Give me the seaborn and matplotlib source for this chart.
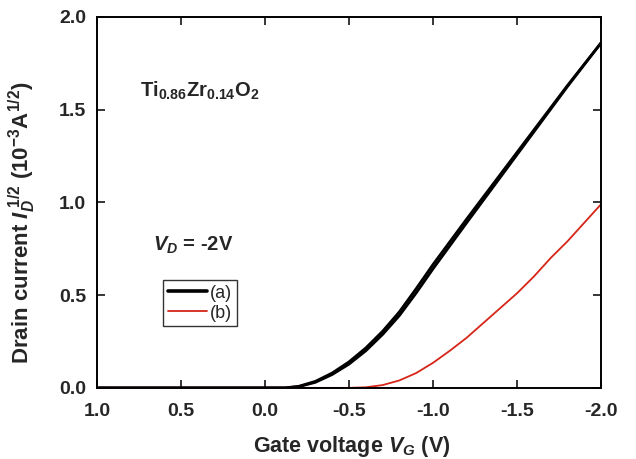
import numpy as np
import pandas as pd
import matplotlib
matplotlib.use("Agg")
import matplotlib.pyplot as plt
import seaborn as sns

# --------------------------------------------
# Data (sqrt drain current vs gate voltage)
# --------------------------------------------
vg_a = [1.0, 0.5, 0.0, -0.12, -0.2, -0.3, -0.4, -0.5, -0.6, -0.7, -0.8,
        -0.9, -1.0, -1.2, -1.4, -1.6, -1.8, -2.0]
id_a_fwd = [0.0, 0.0, 0.0, 0.0, 0.008, 0.035, 0.08, 0.14, 0.215, 0.305,
            0.41, 0.535, 0.665, 0.91, 1.15, 1.39, 1.63, 1.86]
id_a_rev = [0.0, 0.0, 0.0, 0.0, 0.006, 0.03, 0.072, 0.128, 0.2, 0.288,
            0.39, 0.512, 0.642, 0.89, 1.135, 1.38, 1.625, 1.86]

vg_b = [1.0, 0.5, 0.0, -0.5, -0.6, -0.7, -0.8, -0.9, -1.0, -1.1, -1.2,
        -1.3, -1.4, -1.5, -1.6, -1.7, -1.8, -1.9, -2.0]
id_b = [0.0, 0.0, 0.0, 0.0, 0.003, 0.015, 0.04, 0.08, 0.135, 0.20, 0.27,
        0.35, 0.43, 0.51, 0.60, 0.70, 0.79, 0.89, 0.99]

x_ticks = [1.0, 0.5, 0.0, -0.5, -1.0, -1.5, -2.0]
y_ticks = [0.0, 0.5, 1.0, 1.5, 2.0]

# --------------------------------------------
# Style
# --------------------------------------------
sns.set_style("ticks")
plt.rcParams['font.family'] = ['Liberation Sans', 'DejaVu Sans']
plt.rcParams['mathtext.fontset'] = 'custom'
plt.rcParams['mathtext.rm'] = 'Liberation Sans'
plt.rcParams['mathtext.bf'] = 'Liberation Sans:bold'
plt.rcParams['mathtext.it'] = 'Liberation Sans:italic'
plt.rcParams['mathtext.bfit'] = 'Liberation Sans:bold:italic'

fig = plt.figure(figsize=(6.36, 4.59), dpi=100)
ax = fig.add_axes([0.1525, 0.155, 0.7925, 0.808])

# --------------------------------------------
# Curves
# --------------------------------------------
sns.lineplot(x=vg_a, y=id_a_fwd, ax=ax, color='black', lw=2.0,
             sort=False, label='(a)')
sns.lineplot(x=vg_a, y=id_a_rev, ax=ax, color='black', lw=2.0,
             sort=False, label='_nolegend_')
sns.lineplot(x=vg_b, y=id_b, ax=ax, color='#d62518', lw=1.3,
             sort=False, label='(b)')

ax.set_xlim(1.0, -2.0)
ax.set_ylim(0.0, 2.0)
ax.set_xticks(x_ticks)
ax.set_yticks(y_ticks)
ax.set_xticklabels([f"{t:.1f}" for t in x_ticks])
ax.set_yticklabels([f"{t:.1f}" for t in y_ticks])

ax.tick_params(direction='in', length=6, width=1.3, top=True, right=True,
               labelsize=14)
ax.tick_params(axis='x', pad=11)
ax.tick_params(axis='y', pad=8)
for lab in ax.get_xticklabels() + ax.get_yticklabels():
    lab.set_fontweight('bold')
for sp in ax.spines.values():
    sp.set_linewidth(1.4)
    sp.set_color('black')

ax.set_xlabel(r'Gate voltage $\mathbfit{V}_{\mathbfit{G}}$ (V)',
              fontsize=15.5, fontweight='bold')
ax.xaxis.set_label_coords(0.505, -0.124)
ax.xaxis.label.set_va('top')
ax.set_ylabel(r'Drain current $\mathbfit{I}_{\mathbfit{D}}^{\ \mathbf{1/2}}$ '
              r'(10$^{\mathbf{-3}}$A$^{\mathbf{1/2}}$)',
              fontsize=16, fontweight='bold')
ax.yaxis.set_label_coords(-0.118, 0.445)

ax.text(0.085, 0.80, r'$\mathbf{Ti_{0.86}Zr_{0.14}O_2}$', transform=ax.transAxes,
        fontsize=14.5, va='center', ha='left')
ax.text(0.111, 0.385, r'$\mathbfit{V}_{\mathbfit{D}}$ = -2V', transform=ax.transAxes,
        fontsize=14.5, fontweight='bold', va='center', ha='left')

leg = ax.legend(loc='upper left', bbox_to_anchor=(0.131, 0.29),
                borderaxespad=0, fontsize=13, handlelength=2.2,
                frameon=True, fancybox=False, edgecolor='black',
                borderpad=0.25, labelspacing=0.15, handletextpad=0.15)
leg.get_frame().set_linewidth(1.0)
leg.get_lines()[0].set_linewidth(2.6)

plt.savefig("out.png", dpi=100)
